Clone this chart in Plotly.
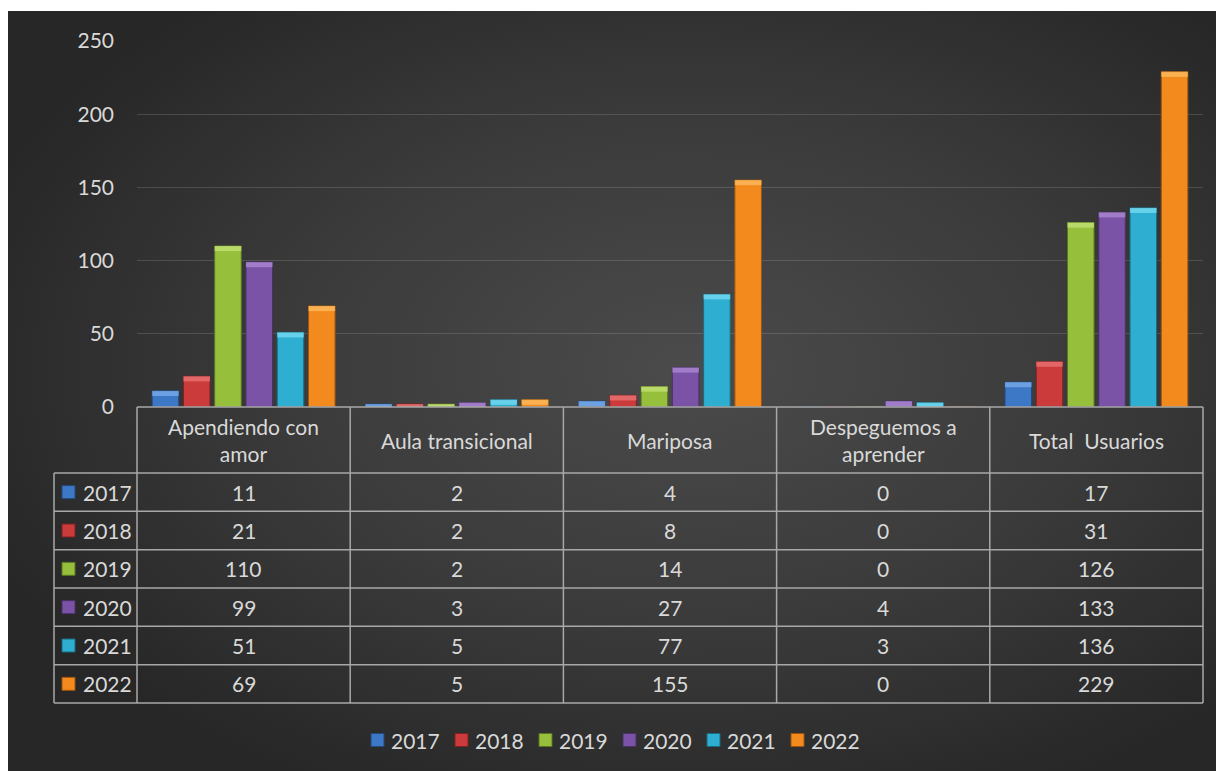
import base64
import plotly.graph_objects as go

# ---------------- data ----------------
categories = ["Apendiendo con amor", "Aula transicional", "Mariposa",
              "Despeguemos a aprender", "Total  Usuarios"]
header_labels = ["Apendiendo con<br>amor", "Aula transicional", "Mariposa",
                 "Despeguemos a<br>aprender", "Total  Usuarios"]
years = ["2017", "2018", "2019", "2020", "2021", "2022"]
v2017 = [11, 2, 4, 0, 17]
v2018 = [21, 2, 8, 0, 31]
v2019 = [110, 2, 14, 0, 126]
v2020 = [99, 3, 27, 4, 133]
v2021 = [51, 5, 77, 3, 136]
v2022 = [69, 5, 155, 0, 229]
series = [v2017, v2018, v2019, v2020, v2021, v2022]
y_ticks = [0, 50, 100, 150, 200, 250]

colors = ["#3d78c6", "#cc3b3b", "#96c03c", "#7a52a6", "#2eaed0", "#f28a1e"]
tops = ["#7fb0ee", "#ee7b7b", "#c8e67a", "#b08fd8", "#7fe0f5", "#ffc266"]
edges = ["#24497a", "#7d2121", "#5b7623", "#4a3166", "#1b6a80", "#9a5510"]
TXT = "#d9d9d9"
FONT = "Lato"
FS = 21

# ---------------- geometry ----------------
# figure is placed at (8, 8) in the page (body margin); coordinates below are page pixels
OFF = 8
W, H = 1216, 763
L, R, T, B = 129, 21, 33, 364
PW, PH = W - L - R, H - T - B


def px(x):
    return (x - OFF - L) / PW


def py(y):
    return (H - B - (y - OFF)) / PH


col_edges = [137 + i * (1203 - 137) / 5 for i in range(6)]
row_edges = [407, 473] + [473 + (i + 1) * (703 - 473) / 6 for i in range(6)]

fig = go.Figure()
for i, yr in enumerate(years):
    fig.add_trace(go.Bar(
        x=categories, y=series[i], name=yr, offsetgroup=str(i),
        marker=dict(color=colors[i], line=dict(color=edges[i], width=1)),
    ))
# light bevel on the top of each bar
for i, yr in enumerate(years):
    cap = [min(v, 3.5) for v in series[i]]
    base = [v - c for v, c in zip(series[i], cap)]
    fig.add_trace(go.Bar(
        x=categories, y=cap, base=base, offsetgroup=str(i), showlegend=False,
        hoverinfo="skip",
        marker=dict(color=tops[i], opacity=0.7, line=dict(width=0)),
    ))

# ---------------- background gradient ----------------
svg = (
    "<svg xmlns='http://www.w3.org/2000/svg' width='1216' height='760'>"
    "<defs><radialGradient id='g' cx='0.56' cy='0.47' r='0.62'>"
    "<stop offset='0' stop-color='#4b4b4b'/>"
    "<stop offset='0.55' stop-color='#3a3a3a'/>"
    "<stop offset='1' stop-color='#272727'/>"
    "</radialGradient></defs>"
    "<rect width='1216' height='760' fill='url(#g)'/></svg>"
)
src = "data:image/svg+xml;base64," + base64.b64encode(svg.encode()).decode()

shapes = []
line_col = "#a8a8a8"
for k, yy in enumerate(row_edges):
    x0 = 137 if k == 0 else 54
    shapes.append(dict(type="line", xref="paper", yref="paper",
                       x0=px(x0), x1=px(1203), y0=py(yy), y1=py(yy),
                       line=dict(color=line_col, width=1.5), layer="above"))
shapes.append(dict(type="line", xref="paper", yref="paper",
                   x0=px(54), x1=px(54), y0=py(473), y1=py(703),
                   line=dict(color=line_col, width=1.5)))
for xx in col_edges:
    shapes.append(dict(type="line", xref="paper", yref="paper",
                       x0=px(xx), x1=px(xx), y0=py(407), y1=py(703),
                       line=dict(color=line_col, width=1.5)))

annotations = []
for j, lab in enumerate(header_labels):
    cx = (col_edges[j] + col_edges[j + 1]) / 2
    annotations.append(dict(xref="paper", yref="paper", x=px(cx), y=py(440),
                            text=lab, showarrow=False, xanchor="center",
                            yanchor="middle", font=dict(family=FONT, size=FS, color=TXT)))
for i, yr in enumerate(years):
    cy = (row_edges[i + 1] + row_edges[i + 2]) / 2
    shapes.append(dict(type="rect", xref="paper", yref="paper",
                       x0=px(62), x1=px(75), y0=py(cy - 6.5), y1=py(cy + 6.5),
                       fillcolor=colors[i], line=dict(color=edges[i], width=1)))
    annotations.append(dict(xref="paper", yref="paper", x=px(81), y=py(cy),
                            text=yr, showarrow=False, xanchor="left", yanchor="middle",
                            font=dict(family=FONT, size=FS, color=TXT)))
    for j in range(len(categories)):
        cx = (col_edges[j] + col_edges[j + 1]) / 2
        annotations.append(dict(xref="paper", yref="paper", x=px(cx), y=py(cy),
                                text=str(series[i][j]), showarrow=False,
                                xanchor="center", yanchor="middle",
                                font=dict(family=FONT, size=FS, color=TXT)))

# legend (drawn manually for exact spacing)
for i, yr in enumerate(years):
    x0 = 371 + 84 * i
    shapes.append(dict(type="rect", xref="paper", yref="paper",
                       x0=px(x0), x1=px(x0 + 13), y0=py(740 - 6.5), y1=py(740 + 6.5),
                       fillcolor=colors[i], line=dict(color=edges[i], width=1)))
    annotations.append(dict(xref="paper", yref="paper", x=px(x0 + 18), y=py(740),
                            text=yr, showarrow=False, xanchor="left", yanchor="middle",
                            font=dict(family=FONT, size=FS, color=TXT)))

fig.update_layout(
    width=W, height=H,
    margin=dict(l=L, r=R, t=T, b=B, pad=0),
    paper_bgcolor="white", plot_bgcolor="rgba(0,0,0,0)",
    barmode="group", bargap=0.12, bargroupgap=0.15,
    font=dict(family=FONT, size=FS, color=TXT),
    showlegend=False,
    images=[dict(source=src, xref="paper", yref="paper",
                 x=px(8), y=py(11), sizex=1216 / PW, sizey=760 / PH,
                 xanchor="left", yanchor="top", sizing="stretch", layer="below")],
    xaxis=dict(showticklabels=False, showgrid=False, zeroline=False, showline=False,
               ticks=""),
    yaxis=dict(range=[0, 250], tickvals=y_ticks, showgrid=True,
               gridcolor="rgba(255,255,255,0.14)", gridwidth=1.3,
               zeroline=False, showline=False, ticks="", ticklabelstandoff=22,
               tickfont=dict(family=FONT, size=FS, color=TXT)),
    shapes=shapes, annotations=annotations,
)

fig.write_html("out.html")
